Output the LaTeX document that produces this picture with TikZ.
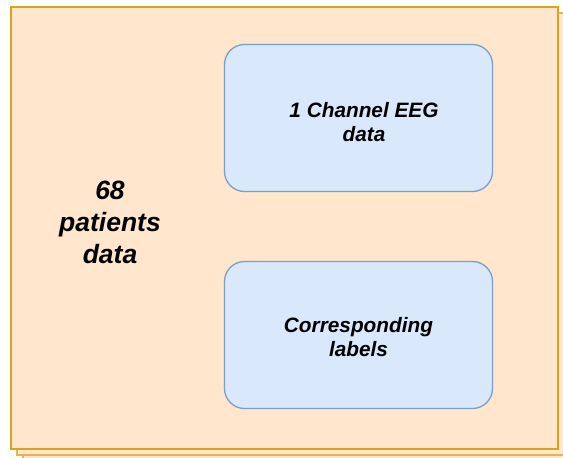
\documentclass[tikz,border=0pt]{standalone}
\usepackage{fontspec}
\setmainfont{Liberation Sans}
\definecolor{peachfill}{HTML}{FFE6CC}
\definecolor{peachline}{HTML}{D9A21F}
\definecolor{backline}{HTML}{E8B54A}
\definecolor{bluefill}{HTML}{DAE8FC}
\definecolor{blueline}{HTML}{7F9DCB}
\tikzset{
  sheet/.style={fill=peachfill, draw=backline, line width=1.4pt},
  frontsheet/.style={fill=peachfill, draw=peachline, line width=1.4pt},
  bluebox/.style={rectangle, rounded corners=20pt, fill=bluefill, draw=blueline,
    line width=1.3pt, minimum width=268pt, minimum height=147pt, inner sep=0pt},
  boxtext/.style={align=center, inner sep=0pt,
    font=\fontsize{20.8}{24}\selectfont\bfseries\itshape},
  bigtext/.style={align=center, inner sep=0pt,
    font=\fontsize{26.5}{32}\selectfont\bfseries\itshape},
}
\begin{document}
\begin{tikzpicture}[x=1pt, y=-1pt]
  \useasboundingbox (0,0) rectangle (563,458);
  \clip (0,0) rectangle (563,458);
  % stacked sheets behind the front one
  \draw[sheet] (23,19) rectangle (570,461);
  \draw[sheet] (17,13) rectangle (564,455);
  \draw[frontsheet] (11,7) rectangle (558,449);
  % dataset label
  \node[bigtext] (patients) at (110,222) {68\\patients\\data};
  % contents
  \node[bluebox] (eeg) at (358.5,118) {};
  \node[boxtext] (eegtext) at (364,122) {1 Channel EEG\\data};
  \node[bluebox] (labels) at (358.5,335) {};
  \node[boxtext] (labelstext) at (358.5,337) {Corresponding\\labels};
\end{tikzpicture}
\end{document}
